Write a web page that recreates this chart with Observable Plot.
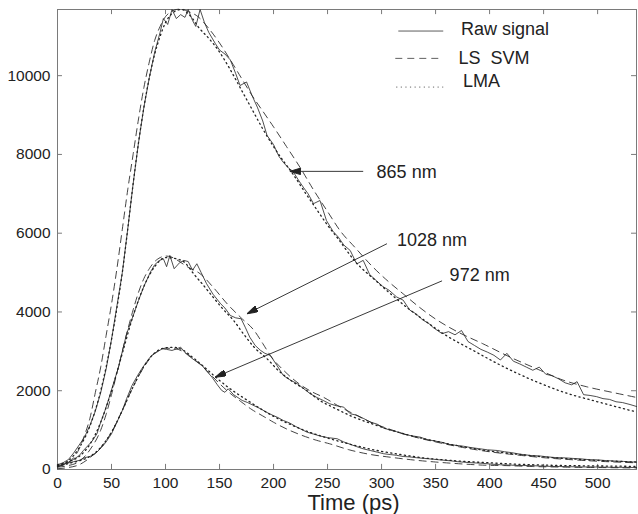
<!DOCTYPE html>
<html><head><meta charset="utf-8">
<script src="https://cdn.jsdelivr.net/npm/d3@7"></script>
<script src="https://cdn.jsdelivr.net/npm/@observablehq/plot@0.6"></script>
<style>body{margin:0;background:#fff}</style>
</head><body><div id="chart"></div>
<script>
// ---- data (time in ps, signal counts) ----
const raw865 = [[0,120],[5,170],[10,250],[15,420],[20,620],[25,820],[30,1120],[35,1480],[40,1950],[45,2550],[50,3300],[55,4150],[60,5000],[65,6100],[70,7250],[75,8300],[80,9200],[85,9950],[90,10600],[95,11100],[98,11450],[102,11300],[106,11680],[110,11450],[114,11550],[118,11480],[121,11680],[125,11400],[128,11250],[132,11680],[136,11350],[140,11100],[146,10820],[150,10650],[155,10550],[160,10400],[165,10050],[169,9750],[175,9840],[180,9500],[185,9200],[190,8850],[194,8480],[200,8250],[205,7950],[209,7800],[214,7650],[218,7570],[223,7350],[228,7150],[232,7000],[237,6750],[243,6830],[249,6320],[255,6050],[260,5900],[265,5700],[271,5560],[277,5220],[283,5310],[289,4950],[295,4800],[301,4650],[307,4550],[314,4380],[320,4300],[326,4050],[332,3950],[338,3800],[344,3700],[348,3600],[356,3450],[362,3500],[368,3420],[374,3530],[380,3250],[386,3150],[392,3050],[398,2980],[404,2900],[410,2780],[416,2950],[422,2750],[428,2680],[434,2600],[440,2520],[446,2600],[452,2420],[458,2380],[464,2300],[470,2200],[476,2150],[481,2230],[487,1900],[493,1880],[499,1850],[505,1800],[511,1780],[517,1720],[523,1700],[530,1650],[536,1600]];
const svm865 = [[0,80],[10,180],[15,300],[20,520],[25,870],[30,1300],[35,1950],[40,2600],[45,3400],[50,4200],[55,5100],[60,6100],[65,7100],[70,8000],[75,8900],[80,9700],[85,10350],[90,10900],[95,11250],[100,11500],[105,11620],[110,11680],[115,11690],[120,11640],[130,11500],[140,11200],[150,10830],[160,10400],[170,9950],[180,9500],[190,9100],[200,8700],[212,8200],[225,7650],[237,7100],[250,6550],[262,6050],[275,5650],[292,5140],[306,4780],[320,4460],[335,4120],[350,3820],[370,3500],[394,3190],[420,2840],[445,2540],[468,2270],[490,2100],[515,1950],[536,1830]];
const lma865 = [[0,100],[10,220],[20,550],[30,1100],[40,2000],[50,3300],[55,4100],[60,5000],[65,6100],[70,7250],[75,8300],[80,9200],[85,9950],[90,10550],[95,11000],[100,11350],[105,11550],[110,11650],[115,11680],[120,11600],[125,11450],[130,11250],[140,10950],[149,10640],[160,10150],[170,9650],[180,9150],[190,8650],[200,8200],[210,7800],[218,7500],[230,7000],[240,6600],[249,6240],[260,5850],[275,5300],[296,4760],[310,4420],[325,4080],[340,3780],[360,3400],[385,3020],[410,2650],[444,2220],[470,1950],[500,1720],[536,1460]];

const raw1028 = [[0,100],[5,130],[10,180],[15,260],[20,350],[24,483],[28,600],[32,720],[36.5,906],[40,1200],[44,1500],[47,1753],[52,2200],[56.5,2599],[60,3000],[64,3446],[70,3900],[75,4293],[80,4650],[86,5012],[90,5200],[94,5300],[98,5351],[101,5150],[104,5436],[108,5098],[113,5250],[117,5309],[121,5280],[125,5060],[129,5224],[133,5000],[138,4717],[144,4450],[151,4209],[155,4100],[160,3911],[165,3850],[170,3827],[174,3600],[178,3360],[183,3150],[188,3023],[192,2950],[197,2896],[203,2650],[209,2388],[215,2280],[222,2177],[228,2050],[234,1923],[240,1830],[246,1753],[252,1669],[258,1620],[265,1583],[271,1415],[277,1380],[283,1300],[290,1202],[296,1150],[302,1050],[308,1000],[314,960],[320,900],[327,860],[336,820],[342,760],[350,720],[356,690],[362,640],[370,610],[376,590],[382,560],[390,530],[398,500],[407,483],[414,450],[420,430],[428,390],[438,356],[446,345],[454,320],[462,300],[470,295],[478,280],[484,271],[492,250],[500,245],[508,225],[516,215],[524,205],[530,195],[536,186]];
const svm1028 = [[0,60],[10,100],[20,200],[30,500],[40,1000],[45,1400],[50,1900],[55,2450],[60,3000],[65,3550],[70,4050],[75,4500],[80,4850],[85,5100],[90,5280],[95,5380],[100,5420],[105,5400],[110,5330],[120,5150],[132,4971],[145,4600],[157,4209],[170,3850],[182,3531],[190,3200],[197,2896],[210,2500],[225,2150],[235,1980],[246,1837],[262,1583],[275,1400],[290,1200],[310,1000],[330,830],[350,700],[375,560],[400,450],[425,370],[450,300],[475,250],[500,210],[536,170]];
const lma1028 = [[0,120],[10,200],[20,330],[30,640],[40,1200],[50,2000],[60,2950],[70,3900],[80,4650],[90,5150],[100,5380],[110,5350],[118,5250],[126,4971],[135,4680],[144,4377],[153,4080],[163,3785],[172,3450],[182,3106],[194,2812],[205,2500],[216,2260],[231,2000],[243,1750],[255,1580],[270,1380],[290,1170],[310,990],[330,840],[350,720],[375,580],[400,470],[425,390],[450,320],[475,270],[500,230],[536,190]];

const raw972 = [[0,60],[7,145],[15,200],[20,230],[25,300],[30,330],[35,400],[41,566],[45,700],[50,906],[55,1200],[60,1499],[64,1800],[69,2134],[74,2380],[78,2557],[83,2750],[87,2896],[92,2980],[97,3066],[101,3050],[106,3023],[110,3060],[114,3106],[117,3000],[121,2896],[127,2770],[134,2642],[138,2500],[143,2345],[148,2150],[152,2007],[155,1960],[158,2049],[163,1900],[171,1753],[176,1700],[182,1620],[188,1541],[193,1460],[199,1380],[204,1320],[209,1245],[215,1180],[220,1100],[225,1030],[231,948],[237,900],[243,850],[250,810],[259,780],[265,700],[271,640],[277,580],[283,525],[290,480],[296,440],[302,400],[308,380],[314,360],[320,330],[326,320],[332,300],[340,280],[348,260],[356,240],[364,220],[370,200],[376,186],[384,170],[392,160],[400,140],[410,120],[420,110],[430,100],[437,100],[445,90],[455,80],[465,75],[475,70],[485,65],[495,65],[505,60],[515,55],[525,55],[536,50]];
const svm972 = [[0,20],[10,50],[20,120],[30,300],[40,560],[50,950],[60,1500],[70,2100],[80,2600],[90,2950],[100,3080],[110,3060],[120,2930],[130,2720],[140,2460],[150,2180],[160,1930],[170,1720],[180,1520],[190,1360],[200,1200],[212,1030],[225,880],[240,740],[252,652],[270,500],[290,380],[308,312],[330,240],[350,190],[375,140],[400,105],[413,100],[440,75],[470,60],[500,50],[536,40]];
const lma972 = [[0,80],[10,150],[20,220],[30,330],[40,560],[50,950],[60,1500],[70,2100],[80,2620],[90,2960],[100,3090],[108,3100],[115,3050],[125,2850],[135,2620],[145,2380],[155,2150],[165,1950],[175,1770],[187,1560],[200,1350],[215,1150],[230,980],[245,840],[260,720],[280,580],[300,460],[320,370],[340,290],[360,240],[380,200],[400,170],[420,140],[440,120],[470,100],[500,90],[536,80]];

const xTicks = [0,50,100,150,200,250,300,350,400,450,500];
const yTicks = [0,2000,4000,6000,8000,10000];
const legendLabels = ["Raw signal", "LS\u00a0\u00a0SVM", "LMA"];
const wavelengthLabels = ["865 nm", "1028 nm", "972 nm"];
const arrowTails = [[283,7570],[305,5733],[356,4790]];
const arrowHeads = [[215,7570],[175.4,3955],[146,2345]];
const labelAnchors = [[295.4,7536],[314.3,5817],[363,4928]];
const legendLineX = [[315.5,357.1],[312.7,357.1],[313.5,357.1]];
const legendLineY = [11133,10439,9710];
const legendTextAnchors = [[373.5,11176],[371.3,10439],[375.4,9855]];
const xLabel = "Time (ps)";

// ---- build tables ----
const toRows = pts => pts.map(([t,v]) => ({t, v}));
const X_MAX = 536, Y_MAX = 11680;
const ink = "#222222", frameGray = "#7a7a7a";
const FONT = "Liberation Sans, Arial, Helvetica, sans-serif";

const rawStyle = {stroke: ink, strokeWidth: 0.8};
const svmStyle = {stroke: ink, strokeWidth: 0.85, strokeDasharray: "7,5"};
const lmaStyle = {stroke: ink, strokeWidth: 1.3, strokeDasharray: "1.2,3.4"};

function lineOf(pts, style, curve) {
  return Plot.line(toRows(pts), {x: "t", y: "v", curve, ...style});
}

function triangleMarker(color) {
  const m = d3.create("svg:marker")
    .attr("viewBox", "0 -3 10 6")
    .attr("refX", 10).attr("refY", 0)
    .attr("markerWidth", 11).attr("markerHeight", 6.5)
    .attr("markerUnits", "userSpaceOnUse")
    .attr("orient", "auto");
  m.append("path").attr("d", "M0,-3L10,0L0,3Z").attr("fill", color);
  return m.node();
}

const arrows = arrowTails.map((a, i) => ({x1: a[0], y1: a[1], x2: arrowHeads[i][0], y2: arrowHeads[i][1]}));
const labels = wavelengthLabels.map((s, i) => ({s, x: labelAnchors[i][0], y: labelAnchors[i][1]}));
const legendRows = legendLabels.map((s, i) => ({s, x1: legendLineX[i][0], x2: legendLineX[i][1], y: legendLineY[i], tx: legendTextAnchors[i][0], ty: legendTextAnchors[i][1]}));

const chart = Plot.plot({
  width: 638, height: 514,
  marginLeft: 57, marginRight: 2, marginTop: 9, marginBottom: 45,
  style: {fontFamily: FONT, color: ink, background: "white"},
  x: {domain: [0, X_MAX]},
  y: {domain: [0, Y_MAX]},
  marks: [
    Plot.frame({stroke: frameGray, strokeWidth: 1}),
    Plot.ruleX(xTicks, {x: d => d, y1: 0, y2: 130, stroke: frameGray}),
    Plot.ruleX(xTicks, {x: d => d, y1: Y_MAX - 130, y2: Y_MAX, stroke: frameGray}),
    Plot.ruleY(yTicks, {y: d => d, x1: 0, x2: 4.6, stroke: frameGray}),
    Plot.ruleY(yTicks, {y: d => d, x1: X_MAX - 4.6, x2: X_MAX, stroke: frameGray}),
    Plot.axisX({ticks: xTicks, tickSize: 0, tickPadding: 7, fontSize: 15.5, fontFamily: FONT, label: null, tickFormat: d => String(d)}),
    Plot.axisY({ticks: yTicks, tickSize: 0, tickPadding: 7, fontSize: 15.5, fontFamily: FONT, label: null, tickFormat: d => String(d)}),
    lineOf(svm865, svmStyle, "monotone-x"),
    lineOf(lma865, lmaStyle, "monotone-x"),
    lineOf(raw865, rawStyle, "linear"),
    lineOf(svm1028, svmStyle, "monotone-x"),
    lineOf(lma1028, lmaStyle, "monotone-x"),
    lineOf(raw1028, rawStyle, "linear"),
    lineOf(svm972, svmStyle, "monotone-x"),
    lineOf(lma972, lmaStyle, "monotone-x"),
    lineOf(raw972, rawStyle, "linear"),
    Plot.link(arrows, {x1: "x1", y1: "y1", x2: "x2", y2: "y2", stroke: ink, strokeWidth: 0.9, markerEnd: triangleMarker}),
    Plot.text(labels, {x: "x", y: "y", text: "s", textAnchor: "start", fontSize: 18, fill: ink, fontFamily: FONT}),
    Plot.link([legendRows[0]], {x1: "x1", x2: "x2", y1: "y", y2: "y", ...rawStyle, stroke: "#333"}),
    Plot.link([legendRows[1]], {x1: "x1", x2: "x2", y1: "y", y2: "y", ...svmStyle, stroke: "#444"}),
    Plot.link([legendRows[2]], {x1: "x1", x2: "x2", y1: "y", y2: "y", ...lmaStyle, strokeWidth: 1, stroke: "#666"}),
    Plot.text(legendRows, {x: "tx", y: "ty", text: "s", textAnchor: "start", fontSize: 18, fill: ink, fontFamily: FONT}),
    Plot.text([xLabel], {x: 274, frameAnchor: "bottom", text: d => d, lineAnchor: "bottom", dy: 40, fontSize: 22, fill: ink, fontFamily: FONT})
  ]
});
document.getElementById("chart").appendChild(chart);
</script>
</body></html>
